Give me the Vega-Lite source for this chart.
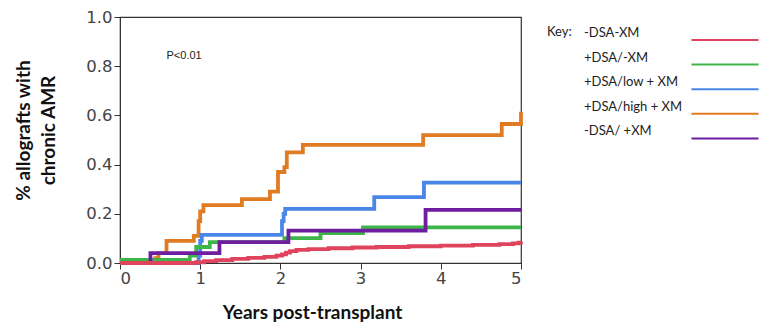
{
  "$schema": "https://vega.github.io/schema/vega-lite/v6.json",
  "width": 401,
  "height": 246,
  "autosize": "none",
  "padding": {"left": 120, "top": 17, "right": 239, "bottom": 68},
  "background": "white",
  "config": {
    "view": {"stroke": "#333", "strokeWidth": 1.2},
    "axis": {"grid": false, "domainColor": "#333", "tickColor": "#333", "labelColor": "#444", "labelFont": "DejaVu Sans", "labelFontSize": 16.5, "titleFont": "Lato", "titleFontWeight": "bold", "titleColor": "#111"}
  },
  "datasets": {
    "curves": [
      {"group": "+DSA/high + XM", "t": 0, "v": 0},
      {"group": "+DSA/high + XM", "t": 0.44, "v": 0.02},
      {"group": "+DSA/high + XM", "t": 0.48, "v": 0.04},
      {"group": "+DSA/high + XM", "t": 0.58, "v": 0.09},
      {"group": "+DSA/high + XM", "t": 0.92, "v": 0.11},
      {"group": "+DSA/high + XM", "t": 0.98, "v": 0.17},
      {"group": "+DSA/high + XM", "t": 1.0, "v": 0.21},
      {"group": "+DSA/high + XM", "t": 1.04, "v": 0.235},
      {"group": "+DSA/high + XM", "t": 1.52, "v": 0.26},
      {"group": "+DSA/high + XM", "t": 1.87, "v": 0.29},
      {"group": "+DSA/high + XM", "t": 1.97, "v": 0.37},
      {"group": "+DSA/high + XM", "t": 2.05, "v": 0.39},
      {"group": "+DSA/high + XM", "t": 2.08, "v": 0.45},
      {"group": "+DSA/high + XM", "t": 2.28, "v": 0.48},
      {"group": "+DSA/high + XM", "t": 3.78, "v": 0.52},
      {"group": "+DSA/high + XM", "t": 4.76, "v": 0.565},
      {"group": "+DSA/high + XM", "t": 5.0, "v": 0.615},
      {"group": "+DSA/low + XM", "t": 0, "v": 0},
      {"group": "+DSA/low + XM", "t": 0.98, "v": 0.03},
      {"group": "+DSA/low + XM", "t": 1.0, "v": 0.09},
      {"group": "+DSA/low + XM", "t": 1.02, "v": 0.114},
      {"group": "+DSA/low + XM", "t": 2.02, "v": 0.17},
      {"group": "+DSA/low + XM", "t": 2.04, "v": 0.2},
      {"group": "+DSA/low + XM", "t": 2.06, "v": 0.22},
      {"group": "+DSA/low + XM", "t": 3.17, "v": 0.268},
      {"group": "+DSA/low + XM", "t": 3.79, "v": 0.327},
      {"group": "+DSA/low + XM", "t": 5.0, "v": 0.327},
      {"group": "+DSA/-XM", "t": 0, "v": 0.013},
      {"group": "+DSA/-XM", "t": 0.87, "v": 0.03},
      {"group": "+DSA/-XM", "t": 0.95, "v": 0.065},
      {"group": "+DSA/-XM", "t": 1.12, "v": 0.085},
      {"group": "+DSA/-XM", "t": 2.05, "v": 0.101},
      {"group": "+DSA/-XM", "t": 2.5, "v": 0.122},
      {"group": "+DSA/-XM", "t": 3.03, "v": 0.145},
      {"group": "+DSA/-XM", "t": 5.0, "v": 0.145},
      {"group": "-DSA/ +XM", "t": 0, "v": 0},
      {"group": "-DSA/ +XM", "t": 0.38, "v": 0.04},
      {"group": "-DSA/ +XM", "t": 1.24, "v": 0.085},
      {"group": "-DSA/ +XM", "t": 2.1, "v": 0.132},
      {"group": "-DSA/ +XM", "t": 3.81, "v": 0.216},
      {"group": "-DSA/ +XM", "t": 5.0, "v": 0.216},
      {"group": "-DSA-XM", "t": 0, "v": 0},
      {"group": "-DSA-XM", "t": 0.95, "v": 0.003},
      {"group": "-DSA-XM", "t": 1.05, "v": 0.008},
      {"group": "-DSA-XM", "t": 1.2, "v": 0.012},
      {"group": "-DSA-XM", "t": 1.4, "v": 0.017},
      {"group": "-DSA-XM", "t": 1.6, "v": 0.021},
      {"group": "-DSA-XM", "t": 1.8, "v": 0.025},
      {"group": "-DSA-XM", "t": 1.95, "v": 0.03},
      {"group": "-DSA-XM", "t": 2.02, "v": 0.035},
      {"group": "-DSA-XM", "t": 2.07, "v": 0.042},
      {"group": "-DSA-XM", "t": 2.12, "v": 0.048},
      {"group": "-DSA-XM", "t": 2.2, "v": 0.053},
      {"group": "-DSA-XM", "t": 2.35, "v": 0.056},
      {"group": "-DSA-XM", "t": 2.6, "v": 0.06},
      {"group": "-DSA-XM", "t": 2.9, "v": 0.063},
      {"group": "-DSA-XM", "t": 3.2, "v": 0.065},
      {"group": "-DSA-XM", "t": 3.6, "v": 0.068},
      {"group": "-DSA-XM", "t": 4.0, "v": 0.071},
      {"group": "-DSA-XM", "t": 4.4, "v": 0.074},
      {"group": "-DSA-XM", "t": 4.73, "v": 0.077},
      {"group": "-DSA-XM", "t": 4.9, "v": 0.08},
      {"group": "-DSA-XM", "t": 4.97, "v": 0.083},
      {"group": "-DSA-XM", "t": 5.0, "v": 0.085}
    ],
    "notes": [{"t": 0.58, "v": 0.84, "label": "P<0.01"}]
  },
  "layer": [
    {
      "data": {"name": "curves"},
      "mark": {"type": "line", "interpolate": "step-after", "strokeWidth": 3.8, "strokeCap": "butt"},
      "encoding": {
        "x": {"field": "t", "type": "quantitative", "scale": {"domain": [0, 5], "nice": false}, "axis": {"values": [0, 1, 2, 3, 4, 5], "format": "d", "tickSize": 6, "labelPadding": 1, "title": "Years post-transplant", "titleFontSize": 19, "titlePadding": 17, "titleX": 192}},
        "y": {"field": "v", "type": "quantitative", "scale": {"domain": [0, 1], "nice": false}, "axis": {"values": [0, 0.1, 0.2, 0.3, 0.4, 0.5, 0.6, 0.7, 0.8, 0.9, 1.0], "labelExpr": "round(datum.value*10)%2==0 ? format(datum.value,'.1f') : ''", "tickSize": {"condition": {"test": "round(datum.value*10)%2==1", "value": 4}, "value": 6}, "labelPadding": 2, "title": ["% allografts with", "chronic AMR"], "titleFontSize": 19, "titleLineHeight": 25, "titlePadding": 27, "titleY": 113}},
        "color": {
          "field": "group", "type": "nominal",
          "scale": {"domain": ["-DSA-XM", "+DSA/-XM", "+DSA/low + XM", "+DSA/high + XM", "-DSA/ +XM"], "range": ["#e0445c", "#3db54a", "#4a86e8", "#e07b22", "#6f1ea0"]},
          "legend": {"orient": "none", "legendX": 427, "legendY": 15, "padding": 0, "title": "Key:", "titleOrient": "left", "titleAnchor": "start", "titleBaseline": "middle", "titlePadding": 5, "titleFont": "Lato", "titleFontSize": 13, "titleFontWeight": "normal", "titleColor": "#222", "symbolType": "M-5,0H5", "symbolSize": 180, "symbolStrokeWidth": 2, "symbolOffset": 140, "labelOffset": -149, "labelBaseline": "bottom", "labelFont": "Lato", "labelFontSize": 13, "labelColor": "#222", "rowPadding": 7.6}
        }
      }
    },
    {
      "data": {"name": "notes"},
      "mark": {"type": "text", "align": "left", "baseline": "middle", "font": "Liberation Sans", "fontSize": 11, "color": "#222"},
      "encoding": {
        "x": {"field": "t", "type": "quantitative"},
        "y": {"field": "v", "type": "quantitative"},
        "text": {"field": "label"}
      }
    }
  ]
}
